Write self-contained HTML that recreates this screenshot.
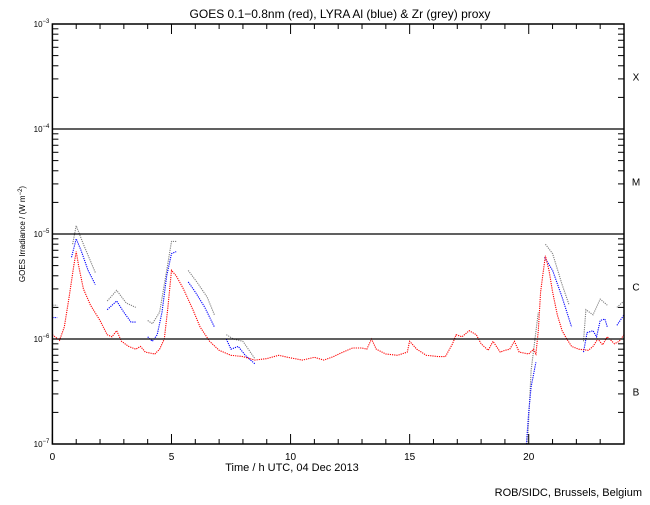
<!DOCTYPE html>
<html><head><meta charset="utf-8"><style>
body{margin:0;background:#fff;}
svg text{font-family:"Liberation Sans",sans-serif;fill:#000;}
</style></head><body>
<svg id="chart" width="650" height="500" xmlns="http://www.w3.org/2000/svg">
<rect width="650" height="500" fill="#fff"/>
<g id="g"></g>
</svg>
<script>
const xTicks=[0,5,10,15,20];
const yDecades=[-7,-6,-5,-4,-3];
const flareClasses=["B","C","M","X"];
const redT=[0,0.3,0.5,0.7,0.9,1.0,1.1,1.3,1.6,2.0,2.3,2.5,2.7,2.9,3.2,3.5,3.7,3.9,4.3,4.5,4.7,4.85,5.0,5.2,5.5,5.9,6.2,6.6,7.0,7.5,8.0,8.5,9.0,9.5,10,10.5,11,11.4,11.8,12.2,12.6,13.0,13.2,13.4,13.6,14.0,14.5,14.9,15.0,15.3,15.7,16.2,16.5,16.8,16.95,17.2,17.5,17.8,18.0,18.3,18.5,18.8,19.0,19.2,19.4,19.6,20.0,20.2,20.3,20.4,20.5,20.6,20.7,20.85,21.0,21.2,21.4,21.6,21.8,22.1,22.5,22.7,22.9,23.1,23.3,23.6,23.8,24];
const redV=[1.1e-6,0.97e-6,1.3e-6,2.5e-6,5e-6,6.8e-6,5e-6,3e-6,2.1e-6,1.5e-6,1.1e-6,1.05e-6,1.2e-6,0.95e-6,0.85e-6,0.8e-6,0.85e-6,0.75e-6,0.72e-6,0.8e-6,1.0e-6,2e-6,4.5e-6,4e-6,3e-6,1.9e-6,1.3e-6,0.95e-6,0.78e-6,0.7e-6,0.68e-6,0.63e-6,0.65e-6,0.7e-6,0.66e-6,0.63e-6,0.67e-6,0.63e-6,0.68e-6,0.75e-6,0.82e-6,0.82e-6,0.8e-6,1.0e-6,0.8e-6,0.72e-6,0.7e-6,0.75e-6,0.95e-6,0.8e-6,0.7e-6,0.68e-6,0.68e-6,0.9e-6,1.1e-6,1.05e-6,1.2e-6,1.1e-6,0.9e-6,0.78e-6,0.95e-6,0.75e-6,0.78e-6,0.8e-6,0.95e-6,0.75e-6,0.72e-6,0.8e-6,0.72e-6,1.2e-6,2.8e-6,4.2e-6,6.2e-6,4.5e-6,2.8e-6,1.7e-6,1.2e-6,1.0e-6,0.85e-6,0.8e-6,0.78e-6,0.85e-6,1.0e-6,0.88e-6,1.05e-6,0.9e-6,0.95e-6,1.1e-6];
const blueSegT=[[0,0.2],[0.8,1.0,1.2,1.5,1.8],[2.3,2.7,3.0,3.3,3.5],[4.0,4.2,4.4,4.6,4.8,5.0,5.2],[5.7,6.0,6.4,6.8],[7.3,7.5,7.8,8.1,8.5],[19.9,20.0,20.1,20.3],[20.66,21.0,21.4,21.8],[22.3,22.45,22.7,22.85,23.0,23.2,23.3],[23.7,24]];
const blueSegV=[[1.6e-6,1.6e-6],[6e-6,9e-6,7e-6,4.5e-6,3.3e-6],[1.9e-6,2.3e-6,1.8e-6,1.45e-6,1.45e-6],[1.05e-6,0.95e-6,1.1e-6,1.8e-6,4e-6,6.5e-6,6.8e-6],[3.5e-6,2.8e-6,2e-6,1.3e-6],[1.0e-6,0.8e-6,0.85e-6,0.7e-6,0.58e-6],[1e-7,2e-7,3.5e-7,6e-7],[6e-6,4.5e-6,2.5e-6,1.3e-6],[0.75e-6,1.15e-6,1.2e-6,1.05e-6,1.5e-6,1.55e-6,1.3e-6],[1.35e-6,1.7e-6]];
const greySegT=[[0,0.2],[0.85,1.0,1.3,1.8],[2.3,2.7,3.1,3.5],[4.0,4.2,4.5,4.8,5.0,5.2],[5.7,6.1,6.5,6.8],[7.3,7.6,8.0,8.5],[19.95,20.1,20.4],[20.7,21.0,21.4,21.7],[22.3,22.4,22.7,23.0,23.3],[23.7,24]];
const greySegV=[[2.1e-6,2.1e-6],[8e-6,1.2e-5,8e-6,4.3e-6],[2.3e-6,2.9e-6,2.2e-6,2.0e-6],[1.5e-6,1.4e-6,1.8e-6,4.5e-6,8.5e-6,8.5e-6],[4.5e-6,3.4e-6,2.5e-6,1.7e-6],[1.1e-6,1.0e-6,0.95e-6,0.65e-6],[1.0e-7,5e-7,1.8e-6],[8e-6,6.5e-6,3.3e-6,2.1e-6],[0.95e-6,1.9e-6,1.7e-6,2.4e-6,2.1e-6],[2.0e-6,2.3e-6]];

const L=52.4,R=624,T=24,B=444;
const xs=t=>L+t*(R-L)/24;
const ys=v=>T+(-3-Math.log10(v))*(B-T)/4;
const NS="http://www.w3.org/2000/svg";
const g=document.getElementById('g');
function mk(tag,attrs,parent){const e=document.createElementNS(NS,tag);for(const k in attrs)e.setAttribute(k,attrs[k]);(parent||g).appendChild(e);return e;}

function line(ts,vs,color,name){
  const pts=ts.map((t,i)=>xs(t).toFixed(1)+","+ys(vs[i]).toFixed(1)).join(" ");
  const p=mk('polyline',{points:pts,fill:'none',stroke:color,'stroke-width':1.1,'stroke-dasharray':'1.2 1'});
  
  
}
greySegT.forEach((s,i)=>line(s,greySegV[i],'#808080','zr-proxy-segment'));
blueSegT.forEach((s,i)=>line(s,blueSegV[i],'#0000ff','lyra-al-segment'));
line(redT,redV,'#ff0000','goes-red-series');

const fr=mk('rect',{x:L,y:T,width:R-L,height:B-T,fill:'none',stroke:'#000','stroke-width':1.5});


yDecades.forEach(d=>{
  const y=ys(Math.pow(10,d));
  if(d>-7&&d<-3){const l=mk('line',{x1:L,x2:R,y1:y,y2:y,stroke:'#000','stroke-width':1.3});
    
    }
  const t=mk('text',{x:L-3,y:y+3,'text-anchor':'end','font-size':8});
  
  
  t.innerHTML='10<tspan dy="-4" font-size="6">−'+(-d)+'</tspan>';
  if(d<-3){for(let m=2;m<=9;m++){const yy=ys(m*Math.pow(10,d));
    mk('line',{x1:L,x2:L+6,y1:yy,y2:yy,stroke:'#000'});
    mk('line',{x1:R-6,x2:R,y1:yy,y2:yy,stroke:'#000'});}}
});
for(let h=0;h<=24;h++){
  const x=xs(h);const len=xTicks.includes(h)?10:5;
  mk('line',{x1:x,x2:x,y1:B,y2:B-len,stroke:'#000'});
  mk('line',{x1:x,x2:x,y1:T,y2:T+len,stroke:'#000'});
}
xTicks.forEach(h=>{const t=mk('text',{x:xs(h),y:B+16,'text-anchor':'middle','font-size':10});
  
  
  t.textContent=h;});
flareClasses.forEach((c,i)=>{const y=(ys(Math.pow(10,-7+i))+ys(Math.pow(10,-6+i)))/2;
  const t=mk('text',{x:636,y:y+4,'text-anchor':'middle','font-size':10});
  
  
  t.textContent=c;});
</script>
<svg style="position:absolute;left:0;top:0" width="650" height="500">
<text x="340" y="18" text-anchor="middle" font-size="12">GOES 0.1−0.8nm (red), LYRA Al (blue) &amp; Zr (grey) proxy</text>
<text x="292" y="471" text-anchor="middle" font-size="11">Time / h UTC, 04 Dec 2013</text>
<text transform="translate(25,234) rotate(-90)" text-anchor="middle" font-size="8">GOES Irradiance / (W m<tspan dy="-3" font-size="6">−2</tspan><tspan dy="3">)</tspan></text>
<text x="642" y="496" text-anchor="end" font-size="11">ROB/SIDC, Brussels, Belgium</text>
</svg>
</body></html>
